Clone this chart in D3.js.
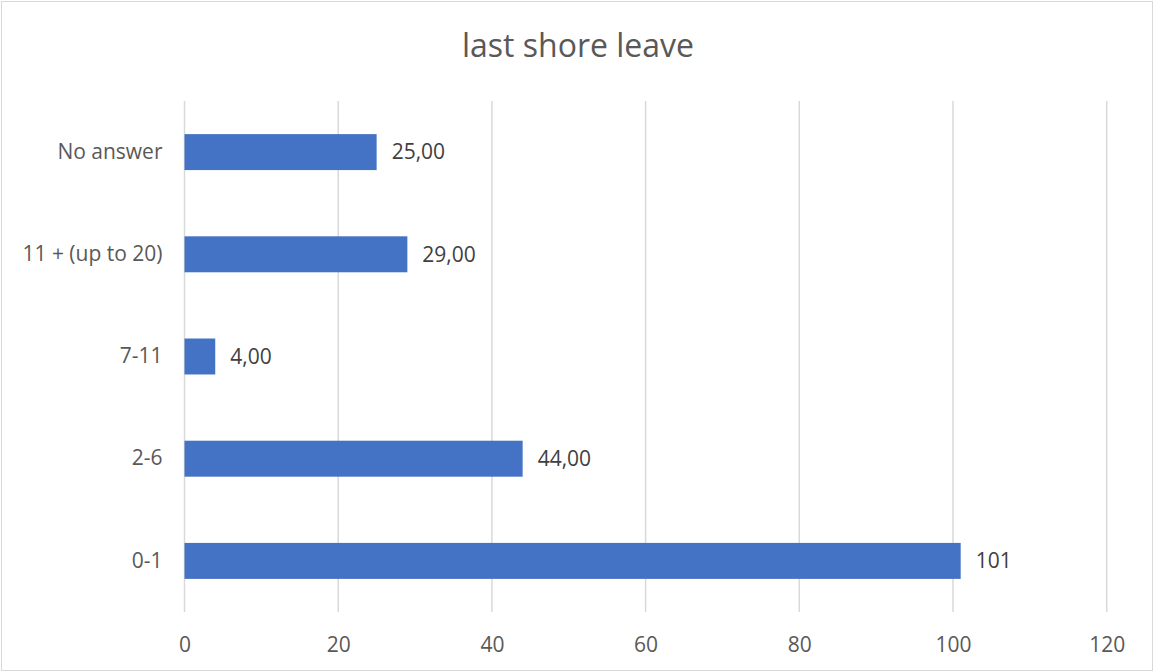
<!DOCTYPE html>
<html>
<head>
<meta charset="utf-8">
<script src="https://cdn.jsdelivr.net/npm/d3@7"></script>
<style>
  body { margin: 0; background: #fff; }
  text { font-family: "Open Sans", "Liberation Sans", sans-serif; }
</style>
</head>
<body>
<script>
// data (top to bottom as drawn)
let categories = ["No answer", "11 + (up to 20)", "7-11", "2-6", "0-1"];
let values = [25, 29, 4, 44, 101];
let valueLabels = ["25,00", "29,00", "4,00", "44,00", "101"];
let xTicks = [0, 20, 40, 60, 80, 100, 120];

function drawChart() {
  var w = 1155, h = 672;
  var margin = { top: 101, right: 48, bottom: 60, left: 184.5 };

  var svg = d3.select("body").append("svg")
    .attr("width", w)
    .attr("height", h);

  // chart border
  svg.append("rect")
    .attr("x", 1.5).attr("y", 1.5)
    .attr("width", w - 4).attr("height", h - 3)
    .attr("fill", "#fff")
    .attr("stroke", "#d9d9d9")
    .attr("stroke-width", 1);

  var x = d3.scaleLinear()
    .domain([0, 120])
    .range([margin.left, 1106.7]);

  var y = d3.scaleBand()
    .domain(categories)
    .range([margin.top, 612])
    .paddingInner(0.648)
    .paddingOuter(0.324);

  // gridlines
  svg.append("g")
    .selectAll("line")
    .data(xTicks)
    .enter()
    .append("line")
    .attr("x1", function(d) { return x(d); })
    .attr("x2", function(d) { return x(d); })
    .attr("y1", margin.top)
    .attr("y2", 612)
    .attr("stroke", "#d9d9d9")
    .attr("stroke-width", 1.5);

  // x axis labels
  var xAxis = d3.axisBottom(x)
    .tickValues(xTicks)
    .tickSize(0)
    .tickPadding(0);
  var gx = svg.append("g")
    .attr("transform", "translate(0,652)")
    .call(xAxis);
  gx.select(".domain").remove();
  gx.selectAll("text")
    .attr("y", 0)
    .attr("dy", 0)
    .attr("font-size", "21px")
    .attr("fill", "#595959");

  // y axis labels
  var yAxis = d3.axisLeft(y)
    .tickSize(0)
    .tickPadding(22);
  var gy = svg.append("g")
    .attr("transform", "translate(" + margin.left + ",0)")
    .call(yAxis);
  gy.select(".domain").remove();
  gy.selectAll("text")
    .attr("font-size", "21px")
    .attr("fill", "#595959");

  // bars
  svg.selectAll("rect.bar")
    .data(values)
    .enter()
    .append("rect")
    .attr("class", "bar")
    .attr("x", x(0))
    .attr("y", function(d, i) { return y(categories[i]); })
    .attr("width", function(d) { return x(d) - x(0); })
    .attr("height", y.bandwidth())
    .attr("fill", "#4472c4");

  // value labels
  svg.selectAll("text.val")
    .data(values)
    .enter()
    .append("text")
    .attr("class", "val")
    .text(function(d, i) { return valueLabels[i]; })
    .attr("x", function(d) { return x(d) + 15; })
    .attr("y", function(d, i) { return y(categories[i]) + y.bandwidth() / 2; })
    .attr("dy", "0.35em")
    .attr("font-size", "21px")
    .attr("fill", "#404040");

  // title
  svg.append("text")
    .attr("x", 578)
    .attr("y", 57)
    .attr("text-anchor", "middle")
    .attr("font-size", "32px")
    .attr("fill", "#595959")
    .text("last shore leave");
}

window.onload = function() {
  drawChart();
};
</script>
</body>
</html>
